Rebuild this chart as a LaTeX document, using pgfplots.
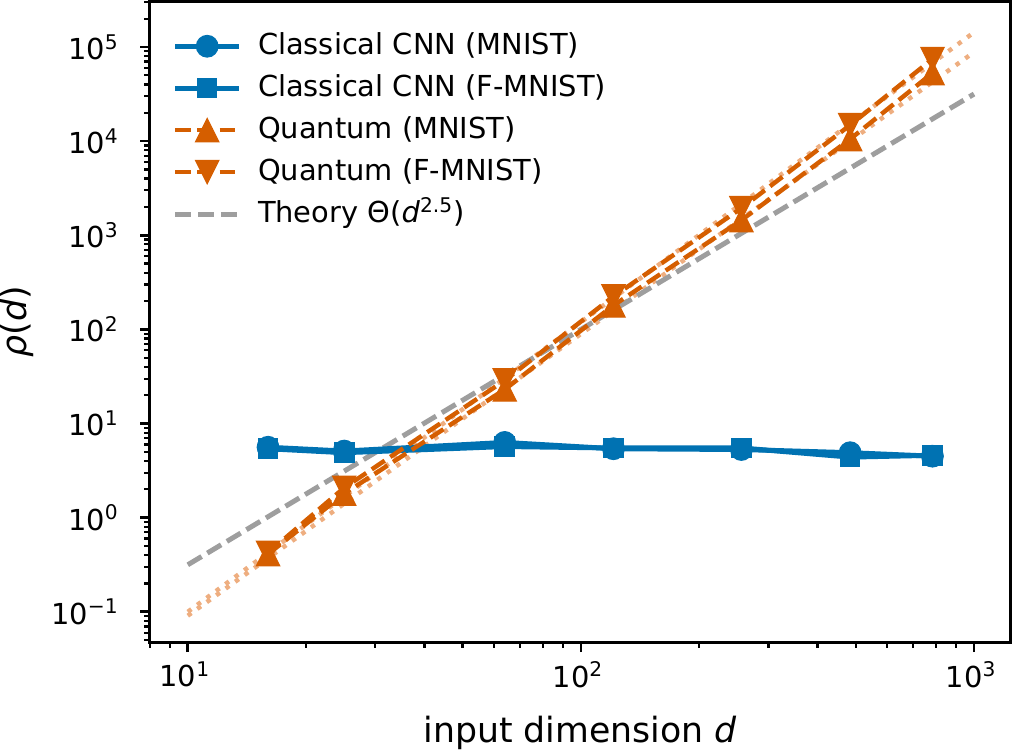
\documentclass[border=0pt]{standalone}
\usepackage{fontspec}
\setmainfont{DejaVu Sans}
\usepackage{pgfplots}
\pgfplotsset{compat=1.18}
\definecolor{cblue}{HTML}{0072B2}
\definecolor{corange}{HTML}{D55E00}
\definecolor{clight}{HTML}{EEAE80}
\definecolor{cgrey}{HTML}{9E9E9E}
\pgfdeclareplotmark{mtriup}{%
  \pgfpathmoveto{\pgfqpoint{0pt}{\pgfplotmarksize}}%
  \pgfpathlineto{\pgfqpoint{-\pgfplotmarksize}{-\pgfplotmarksize}}%
  \pgfpathlineto{\pgfqpoint{\pgfplotmarksize}{-\pgfplotmarksize}}%
  \pgfpathclose\pgfusepathqfillstroke}
\pgfdeclareplotmark{mtridown}{%
  \pgfpathmoveto{\pgfqpoint{0pt}{-\pgfplotmarksize}}%
  \pgfpathlineto{\pgfqpoint{-\pgfplotmarksize}{\pgfplotmarksize}}%
  \pgfpathlineto{\pgfqpoint{\pgfplotmarksize}{\pgfplotmarksize}}%
  \pgfpathclose\pgfusepathqfillstroke}
\pgfplotstableread{
d rho
16 5.6
25 5.1
64 6.3
121 5.4
256 5.3
484 4.9
784 4.5
}\cnnmnist
\pgfplotstableread{
d rho
16 5.4
25 4.9
64 5.7
121 5.5
256 5.5
484 4.4
784 4.6
}\cnnfmnist
\pgfplotstableread{
d rho
16 0.41
25 1.8
64 23
121 180
256 1445
484 10500
784 52800
}\qmnist
\pgfplotstableread{
d rho
16 0.424
25 2.08
64 28.7
121 224
256 1940
484 14800
784 74500
}\qfmnist
\begin{document}
\begin{tikzpicture}
\begin{axis}[
  xmode=log, ymode=log,
  scale only axis, width=310pt, height=230.9pt,
  xmin=8.0, xmax=1240, ymin=0.0473, ymax=3.07e5,
  axis line style={line width=1.1pt, black},
  tick pos=left, tick align=outside,
  major tick length=3.5pt, minor tick length=2pt,
  major tick style={line width=1pt, black},
  minor tick style={line width=0.8pt, black},
  ticklabel style={font=\fontsize{10.4}{12}\selectfont},
  xticklabel style={xshift=-1pt},
  yticklabel style={xshift=-4pt},
  xtick={10,100,1000},
  xticklabels={10\textsuperscript{1},10\textsuperscript{2},10\textsuperscript{3}},
  minor xtick={8,9,20,30,40,50,60,70,80,90,200,300,400,500,600,700,800,900,2000},
  ytick={0.1,1,10,100,1000,10000,100000},
  yticklabels={10\textsuperscript{−1},10\textsuperscript{0},10\textsuperscript{1},10\textsuperscript{2},10\textsuperscript{3},10\textsuperscript{4},10\textsuperscript{5}},
  minor ytick={0.05,0.06,0.07,0.08,0.09,0.2,0.3,0.4,0.5,0.6,0.7,0.8,0.9,2,3,4,5,6,7,8,9,20,30,40,50,60,70,80,90,200,300,400,500,600,700,800,900,2000,3000,4000,5000,6000,7000,8000,9000,20000,30000,40000,50000,60000,70000,80000,90000,200000,300000},
  xlabel={input dimension \textit{d}},
  ylabel={\textit{ρ}(\textit{d})},
  label style={font=\fontsize{12.5}{14}\selectfont},
  xlabel style={at={(axis description cs:0.5,-0.1408)}, anchor=center},
  ylabel style={at={(axis description cs:-0.154,0.5)}, anchor=center},
  legend cell align=left,
  legend image code/.code={\draw[mark repeat=2,mark phase=2,#1] plot coordinates {(0pt,0pt) (11.5pt,0pt) (23pt,0pt)};},
  legend style={at={(axis description cs:0,1)}, anchor=north west, xshift=5.1pt, yshift=-6.5pt,
    draw=none, fill=none, column sep=3.9pt, row sep=0pt,
    font=\fontsize{10.4}{12}\selectfont,
    nodes={inner sep=2pt, text height=8.5pt, text depth=2.6pt}},
]
% fitted power laws (dotted)
\addplot[forget plot, clight, line width=1.6pt, line cap=butt, dash pattern=on 1.6pt off 2.6pt] coordinates {(10,0.1) (1000,143000)};
\addplot[forget plot, clight, line width=1.6pt, line cap=butt, dash pattern=on 1.6pt off 2.6pt] coordinates {(10,0.091) (1000,88000)};
% theory
\addplot[forget plot, cgrey, line width=1.8pt, dash pattern=on 5.8pt off 2.4pt] coordinates {(10,0.316) (1000,31623)};
\addplot[cblue, line width=1.8pt, mark=*, mark size=3.9pt, mark options={solid, fill=cblue, draw=cblue, line width=0.4pt}] table[x=d,y=rho] {\cnnmnist};
\addlegendentry{Classical CNN (MNIST)}
\addplot[cblue, line width=1.8pt, mark=square*, mark size=3.5pt, mark options={solid, fill=cblue, draw=cblue, line width=0.4pt}] table[x=d,y=rho] {\cnnfmnist};
\addlegendentry{Classical CNN (F-MNIST)}
\addplot[corange, line width=1.6pt, dash pattern=on 5.6pt off 2.4pt, mark=mtriup, mark size=4.2pt, mark options={solid, fill=corange, draw=corange, line width=0.4pt}] table[x=d,y=rho] {\qmnist};
\addlegendentry{Quantum (MNIST)}
\addplot[corange, line width=1.6pt, dash pattern=on 5.6pt off 2.4pt, mark=mtridown, mark size=4.2pt, mark options={solid, fill=corange, draw=corange, line width=0.4pt}] table[x=d,y=rho] {\qfmnist};
\addlegendentry{Quantum (F-MNIST)}
\addlegendimage{cgrey, line width=1.8pt, dash pattern=on 5.8pt off 2.4pt}
\addlegendentry{Theory Θ(\textit{d}\textsuperscript{2.5})}
\end{axis}
\pgfresetboundingbox
\useasboundingbox (-53.9pt,-39.0pt) rectangle (311.9pt,231.3pt);
\end{tikzpicture}
\end{document}
